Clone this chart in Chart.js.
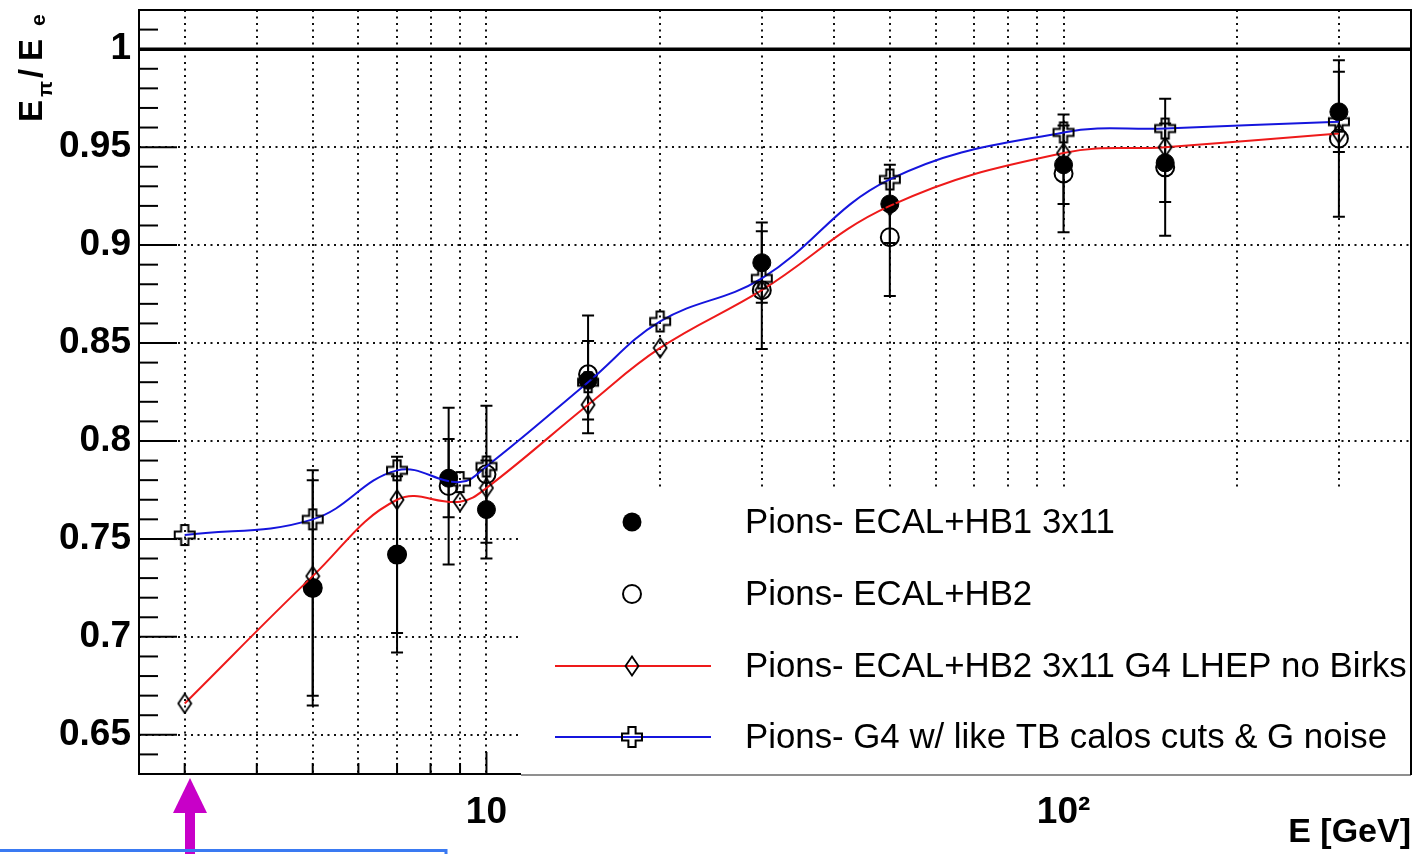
<!DOCTYPE html>
<html>
<head>
<meta charset="utf-8">
<script src="https://cdn.jsdelivr.net/npm/chart.js@4.4.1/dist/chart.umd.min.js"></script>
<style>
html,body{margin:0;padding:0;background:#ffffff;overflow:hidden;}
canvas{display:block;}
</style>
</head>
<body>
<canvas id="c" width="1416" height="854"></canvas>
<script>
// ---------------- data ----------------
const energyData = [5, 7, 8.6, 10, 15, 30, 50, 100, 150, 300];
const hb1Values  = [0.725, 0.742, 0.781, 0.765, 0.831, 0.891, 0.921, 0.941, 0.942, 0.968];
const hb1Errors  = [0.060, 0.050, 0.020, 0.025, 0.020, 0.0205, 0.020, 0.020, 0.020, 0.0205];
const hb2Values  = [0.725, 0.742, 0.777, 0.783, 0.834, 0.877, 0.904, 0.9366, 0.9397, 0.9544];
const hb2Errors  = [0.055, 0.040, 0.040, 0.035, 0.030, 0.030, 0.030, 0.030, 0.035, 0.040];

const energySim   = [3, 5, 7, 9, 10, 15, 20, 30, 50, 100, 150, 300];
const lhepValues  = [0.666, 0.731, 0.770, 0.769, 0.776, 0.8185, 0.8475, 0.877, 0.920, 0.947, 0.950, 0.957];
const tbcutValues = [0.752, 0.760, 0.785, 0.779, 0.787, 0.830, 0.861, 0.883, 0.9335, 0.9575, 0.9595, 0.963];

const seriesLabels = [
  'Pions- ECAL+HB1 3x11',
  'Pions- ECAL+HB2',
  'Pions- ECAL+HB2 3x11 G4 LHEP no Birks',
  'Pions- G4 w/ like TB calos cuts & G noise'
];

const xGridValues  = [3, 4, 5, 6, 7, 8, 9, 10, 20, 30, 40, 50, 60, 70, 80, 90, 100, 200, 300];
const xLabelValues = [10, 100];
const xLabelTexts  = ['10', '10\u00B2'];
const yTickValues  = [0.65, 0.7, 0.75, 0.8, 0.85, 0.9, 0.95, 1.0];
const yTickLabels  = ['0.65', '0.7', '0.75', '0.8', '0.85', '0.9', '0.95', '1'];
const referenceLine = 1.0;

const xTitle = 'E [GeV]';
// ----------------------------------------------------------------

const FONT = "'Liberation Sans', Arial, Helvetica, sans-serif";
const RED = '#ee1a1a';
const BLUE = '#1515dd';
const AREA = {left: 139, top: 10, right: 1411, bottom: 774};

function makeDiamond() {
  const w = 16, h = 22;
  const c = document.createElement('canvas');
  c.width = w; c.height = h;
  const g = c.getContext('2d');
  g.strokeStyle = '#000'; g.lineWidth = 1.8;
  g.beginPath();
  g.moveTo(w / 2, 1.5); g.lineTo(w - 1.5, h / 2); g.lineTo(w / 2, h - 1.5); g.lineTo(1.5, h / 2);
  g.closePath(); g.stroke();
  return c;
}
function makeCross() {
  const n = 24, m = n / 2, a = 3.6, s = 10;
  const c = document.createElement('canvas');
  c.width = n; c.height = n;
  const g = c.getContext('2d');
  g.strokeStyle = '#000'; g.lineWidth = 2;
  const pts = [[m-a,m-s],[m+a,m-s],[m+a,m-a],[m+s,m-a],[m+s,m+a],[m+a,m+a],[m+a,m+s],[m-a,m+s],[m-a,m+a],[m-s,m+a],[m-s,m-a],[m-a,m-a]];
  g.beginPath();
  pts.forEach((p, i) => i ? g.lineTo(p[0], p[1]) : g.moveTo(p[0], p[1]));
  g.closePath(); g.stroke();
  return c;
}
const diamondImg = makeDiamond();
const crossImg = makeCross();

function toPoints(xs, ys) { return xs.map((e, i) => ({x: e, y: ys[i]})); }

function seg(ctx, x1, y1, x2, y2) { ctx.beginPath(); ctx.moveTo(x1, y1); ctx.lineTo(x2, y2); ctx.stroke(); }

const errorBarPlugin = {
  id: 'errorBars',
  beforeDatasetsDraw(chart) {
    const {ctx, chartArea: a, scales: {x, y}} = chart;
    ctx.save();
    ctx.beginPath(); ctx.rect(a.left, a.top, a.right - a.left, a.bottom - a.top); ctx.clip();
    // reference line at E_pi/E_e = 1
    ctx.strokeStyle = '#000'; ctx.lineWidth = 3.5;
    const yr = y.getPixelForValue(referenceLine);
    seg(ctx, a.left, yr, a.right, yr);
    // error bars
    ctx.lineWidth = 2;
    chart.data.datasets.forEach(ds => {
      if (!ds.errors) return;
      ds.data.forEach((p, i) => {
        const px = x.getPixelForValue(p.x);
        const y1 = y.getPixelForValue(p.y - ds.errors[i]);
        const y2 = y.getPixelForValue(p.y + ds.errors[i]);
        ctx.beginPath();
        ctx.moveTo(px, y1); ctx.lineTo(px, y2);
        ctx.moveTo(px - 6, y1); ctx.lineTo(px + 6, y1);
        ctx.moveTo(px - 6, y2); ctx.lineTo(px + 6, y2);
        ctx.stroke();
      });
    });
    ctx.restore();
  }
};

const decorPlugin = {
  id: 'decor',
  afterDraw(chart) {
    const {ctx, chartArea: a, scales: {x, y}} = chart;
    ctx.save();
    ctx.strokeStyle = '#000';
    ctx.lineWidth = 2;
    // x tick marks (inside, from bottom)
    xGridValues.forEach(v => {
      const px = x.getPixelForValue(v);
      const len = xLabelValues.includes(v) ? 22 : 11;
      seg(ctx, px, a.bottom, px, a.bottom - len);
    });
    // y tick marks (inside, from left), every 0.01
    for (let k = 63; k <= 102; k++) {
      const py = y.getPixelForValue(k / 100);
      const len = (k % 5 === 0) ? 38 : 19;
      seg(ctx, a.left, py, a.left + len, py);
    }
    // frame
    ctx.lineWidth = 2;
    ctx.strokeRect(a.left, a.top, a.right - a.left, a.bottom - a.top);

    // legend box
    const lx = 521, ly = 488, lb = 775;
    ctx.fillStyle = '#fff';
    ctx.fillRect(lx, ly, a.right - lx, lb - ly + 1);
    ctx.strokeStyle = '#6a6a6a'; ctx.lineWidth = 1.5;
    seg(ctx, lx, lb, a.right, lb);
    ctx.strokeStyle = '#000'; ctx.lineWidth = 2;
    seg(ctx, a.right, a.top - 1, a.right, lb);

    const rows = [522, 594, 666, 737];
    const symX = 632, txtX = 745;
    const ds = chart.data.datasets;
    // filled circle
    ctx.fillStyle = '#000';
    ctx.beginPath(); ctx.arc(symX, rows[0], 9.5, 0, Math.PI * 2); ctx.fill();
    // open circle
    ctx.strokeStyle = '#000'; ctx.lineWidth = 2;
    ctx.beginPath(); ctx.arc(symX, rows[1], 9, 0, Math.PI * 2); ctx.stroke();
    // red line + diamond
    ctx.strokeStyle = RED; ctx.lineWidth = 2;
    seg(ctx, 555, rows[2], 711, rows[2]);
    ctx.drawImage(diamondImg, symX - diamondImg.width / 2, rows[2] - diamondImg.height / 2);
    // blue line + cross
    ctx.strokeStyle = BLUE; ctx.lineWidth = 2;
    seg(ctx, 555, rows[3], 711, rows[3]);
    ctx.drawImage(crossImg, symX - crossImg.width / 2, rows[3] - crossImg.height / 2);
    // texts
    ctx.fillStyle = '#000';
    ctx.font = `34.8px ${FONT}`;
    ctx.textAlign = 'left'; ctx.textBaseline = 'middle';
    ds.forEach((d, i) => ctx.fillText(d.label, txtX, rows[i] + 1));

    // y axis title  E_pi / E_e
    ctx.save();
    ctx.translate(42, 122);
    ctx.rotate(-Math.PI / 2);
    ctx.textBaseline = 'alphabetic'; ctx.textAlign = 'left';
    const big = `bold 33px ${FONT}`, small = `bold 21px ${FONT}`;
    ctx.font = big;  ctx.fillText('E', 0, 0);
    ctx.font = small; ctx.fillText('\u03C0', 25, 10);
    ctx.font = big;  ctx.fillText('/', 44, 0);
    ctx.font = big;  ctx.fillText('E', 61, 0);
    ctx.font = small; ctx.fillText('e', 96, 3);
    ctx.restore();

    // annotation overlays: magenta arrow and blue box edge
    ctx.fillStyle = '#c800c8';
    ctx.fillRect(185, 810, 10, 50);
    ctx.beginPath();
    ctx.moveTo(173, 813); ctx.lineTo(207, 813); ctx.lineTo(190, 778); ctx.closePath(); ctx.fill();
    ctx.strokeStyle = '#3a7af2'; ctx.lineWidth = 3;
    ctx.beginPath();
    ctx.moveTo(-5, 850.5); ctx.lineTo(446, 850.5); ctx.lineTo(446, 860);
    ctx.stroke();

    ctx.restore();
  }
};

const chart = new Chart(document.getElementById('c'), {
  type: 'scatter',
  data: {
    datasets: [
      {
        label: seriesLabels[0],
        data: toPoints(energyData, hb1Values),
        errors: hb1Errors,
        showLine: false,
        pointStyle: 'circle',
        pointRadius: 9,
        pointBorderWidth: 1,
        pointBackgroundColor: '#000',
        pointBorderColor: '#000',
        order: 3
      },
      {
        label: seriesLabels[1],
        data: toPoints(energyData, hb2Values),
        errors: hb2Errors,
        showLine: false,
        pointStyle: 'circle',
        pointRadius: 9,
        pointBorderWidth: 2,
        pointBackgroundColor: 'rgba(0,0,0,0)',
        pointBorderColor: '#000',
        order: 4
      },
      {
        label: seriesLabels[2],
        data: toPoints(energySim, lhepValues),
        showLine: true,
        borderColor: RED,
        borderWidth: 2,
        tension: 0.4,
        fill: false,
        pointStyle: diamondImg,
        pointRadius: 10,
        order: 2
      },
      {
        label: seriesLabels[3],
        data: toPoints(energySim, tbcutValues),
        showLine: true,
        borderColor: BLUE,
        borderWidth: 2,
        tension: 0.4,
        fill: false,
        pointStyle: crossImg,
        pointRadius: 10,
        order: 1
      }
    ]
  },
  options: {
    responsive: false,
    devicePixelRatio: 1,
    animation: false,
    events: [],
    layout: {autoPadding: false, padding: {left: 0, top: 10, right: 5, bottom: 0}},
    plugins: {legend: {display: false}, tooltip: {enabled: false}, title: {display: false}},
    scales: {
      x: {
        type: 'logarithmic',
        min: 2.5,
        max: 400,
        afterBuildTicks: s => { s.ticks = xGridValues.map(v => ({value: v})); },
        afterFit: s => { s.height = 80; s.paddingLeft = 0; s.paddingRight = 0; },
        ticks: {
          autoSkip: false, maxRotation: 0, minRotation: 0, padding: 17,
          color: '#000',
          font: {family: FONT, size: 37, weight: 'bold'},
          callback: v => { const i = xLabelValues.indexOf(v); return i >= 0 ? xLabelTexts[i] : ''; }
        },
        grid: {display: true, drawTicks: false, color: '#111', lineWidth: 2},
        border: {display: false, dash: [2, 4.5]},
        title: {
          display: true, text: xTitle, align: 'end', color: '#000',
          font: {family: FONT, size: 34, weight: 'bold'},
          padding: {top: 0, bottom: 1}
        }
      },
      y: {
        type: 'linear',
        min: 0.63,
        max: 1.02,
        afterBuildTicks: s => { s.ticks = yTickValues.map(v => ({value: v})); },
        afterFit: s => { s.width = 139; s.paddingTop = 0; s.paddingBottom = 0; },
        ticks: {
          autoSkip: false, padding: 8, color: '#000',
          font: {family: FONT, size: 37, weight: 'bold'},
          callback: (v, i) => yTickLabels[i]
        },
        grid: {display: true, drawTicks: false, color: '#111', lineWidth: 2},
        border: {display: false, dash: [2, 4.5]}
      }
    }
  },
  plugins: [errorBarPlugin, decorPlugin]
});

// align the plot frame with the reference frame
for (let it = 0; it < 3; it++) {
  const ca = chart.chartArea;
  const p = chart.options.layout.padding;
  const dl = AREA.left - ca.left, dt = AREA.top - ca.top;
  const dr = ca.right - AREA.right, db = ca.bottom - AREA.bottom;
  if (Math.abs(dl) < 0.5 && Math.abs(dt) < 0.5 && Math.abs(dr) < 0.5 && Math.abs(db) < 0.5) break;
  p.left += dl; p.top += dt; p.right += dr; p.bottom += db;
  chart.update();
}
</script>
</body>
</html>
